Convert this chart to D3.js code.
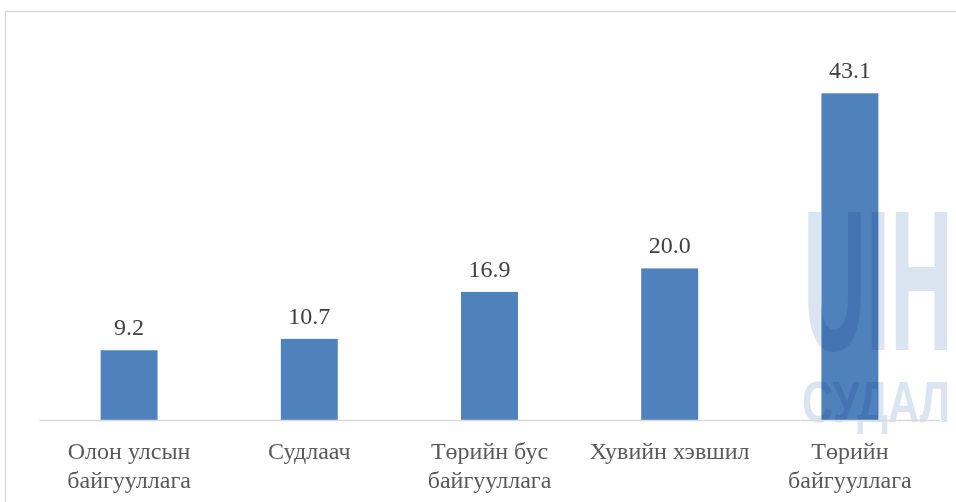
<!DOCTYPE html>
<html><head><meta charset="utf-8">
<script src="https://cdn.jsdelivr.net/npm/d3@7"></script>
<style>html,body{margin:0;padding:0;background:#fff;overflow:hidden}</style>
</head><body>
<svg id="c" width="956" height="502"></svg>
<script>
const categories = [["Олон улсын","байгууллага"],["Судлаач"],["Төрийн бус","байгууллага"],["Хувийн хэвшил"],["Төрийн","байгууллага"]];
const values = [9.2, 10.7, 16.9, 20.0, 43.1];
const yDomain = [0, 50];

(function(){
const svg = d3.select("#c");
const W = 956, H = 502;
const mLeft = 39, mRight = 940, mTop = 41, mBottom = 420;

// chart border
svg.append("rect").attr("x",5.5).attr("y",11.5).attr("width",W).attr("height",H)
  .attr("fill","none").attr("stroke","#d9d9d9").attr("stroke-width",1.5);

const x = d3.scaleBand().domain(d3.range(values.length)).range([mLeft,mRight])
  .paddingInner(0.684).paddingOuter(0.342);
const y = d3.scaleLinear().domain(yDomain).range([mBottom, mTop]);

svg.append("g").selectAll("rect").data(values).join("rect")
  .attr("x",(d,i)=>x(i)).attr("width",x.bandwidth())
  .attr("y",d=>y(d)).attr("height",d=>y(0)-y(d))
  .attr("fill","#4f81bd");

// watermark
const wm = svg.append("g").style("mix-blend-mode","multiply").attr("fill","#dbe5f1")
  .attr("font-family","'Liberation Sans Narrow','Liberation Sans',sans-serif").attr("font-weight","bold");
wm.append("text").attr("x",803).attr("y",350).attr("font-size",200)
  .attr("textLength",150).attr("lengthAdjust","spacingAndGlyphs").text("UIH");
wm.append("text").attr("x",802).attr("y",422).attr("font-size",58)
  .attr("textLength",148).attr("lengthAdjust","spacingAndGlyphs").text("СУДАЛ");

// axis line
const xAxis = d3.axisBottom(x).tickSize(0).tickFormat("");
const ax = svg.append("g").attr("transform",`translate(0,${mBottom})`).call(xAxis);
ax.select(".domain").attr("stroke","#d9d9d9").attr("stroke-width",1.5);

// data labels
svg.append("g").selectAll("text").data(values).join("text")
  .attr("x",(d,i)=>x(i)+x.bandwidth()/2).attr("y",d=>y(d)-15)
  .attr("text-anchor","middle").attr("font-family","'Liberation Serif','Times New Roman',serif")
  .attr("font-size",24).attr("fill","#404040").text(d=>d.toFixed(1));

// category labels
const cl = svg.append("g").selectAll("text").data(categories).join("text")
  .attr("x",(d,i)=>x(i)+x.bandwidth()/2).attr("y",459)
  .attr("text-anchor","middle").attr("font-family","'Liberation Serif','Times New Roman',serif")
  .attr("font-size",24).attr("fill","#595959");
cl.selectAll("tspan").data(d=>d).join("tspan")
  .attr("x",function(){return this.parentNode.getAttribute("x");})
  .attr("dy",(d,i)=>i===0?0:29).text(d=>d);
})();
</script>
</body></html>
